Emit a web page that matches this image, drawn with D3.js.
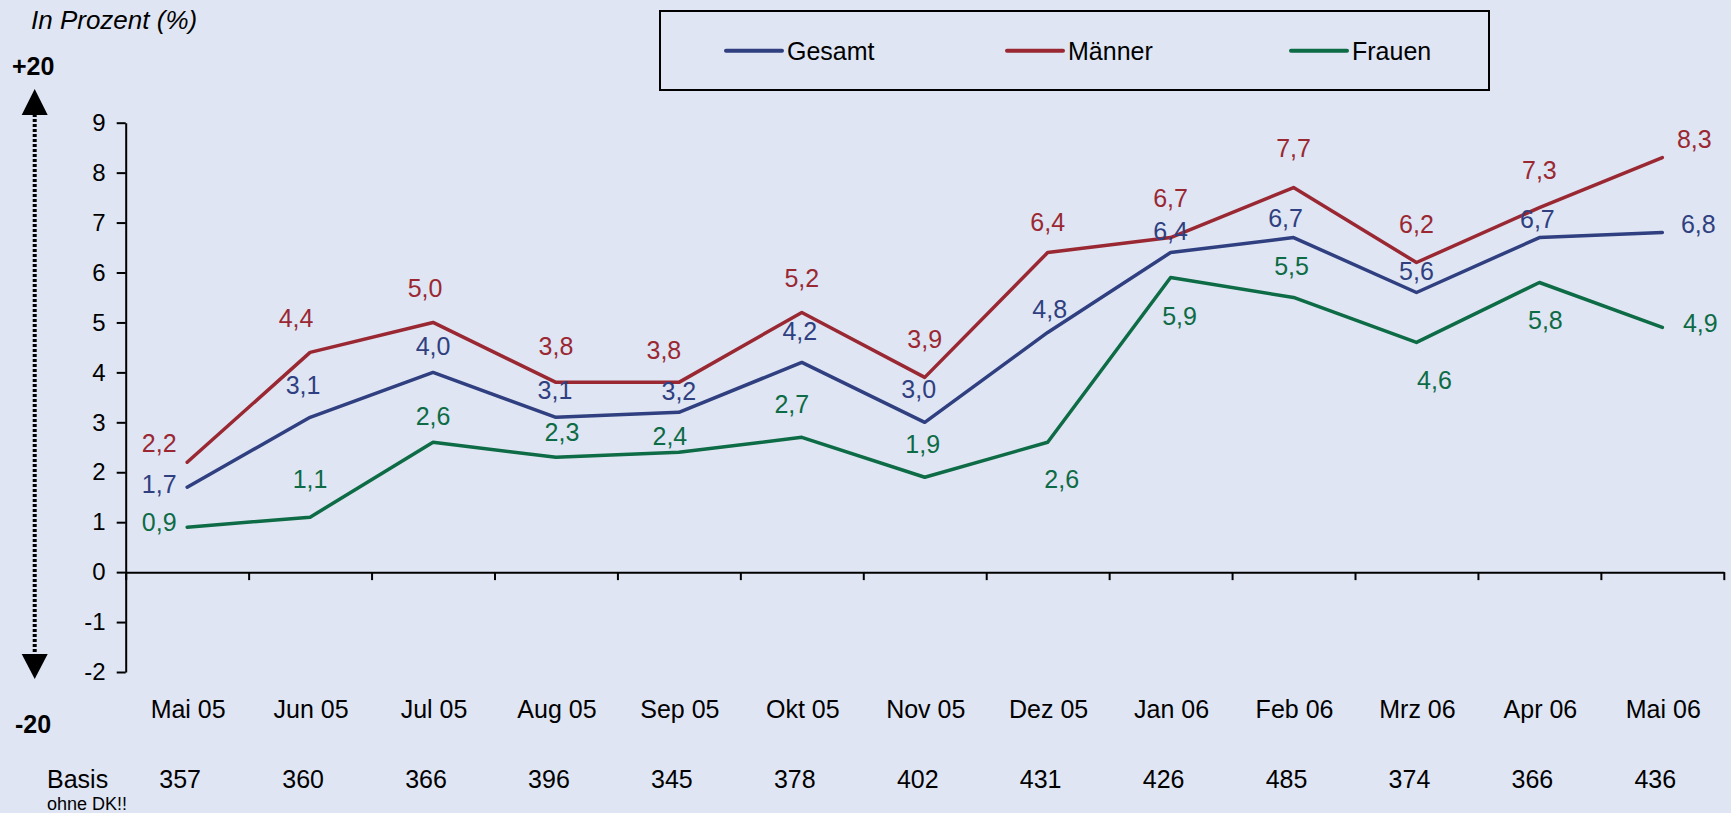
<!DOCTYPE html>
<html>
<head>
<meta charset="utf-8">
<script src="https://cdn.jsdelivr.net/npm/d3@7"></script>
<style>
  body { margin: 0; background: #dfe5f3; }
  svg { display: block; font-family: Arial, "Liberation Sans", sans-serif; }
</style>
</head>
<body>
<div id="chart"></div>
<script>
// data
const months = ["Mai 05", "Jun 05", "Jul 05", "Aug 05", "Sep 05", "Okt 05", "Nov 05",
    "Dez 05", "Jan 06", "Feb 06", "Mrz 06", "Apr 06", "Mai 06"]
const gesamt = [1.7, 3.1, 4.0, 3.1, 3.2, 4.2, 3.0, 4.8, 6.4, 6.7, 5.6, 6.7, 6.8]
const maenner = [2.2, 4.4, 5.0, 3.8, 3.8, 5.2, 3.9, 6.4, 6.7, 7.7, 6.2, 7.3, 8.3]
const frauen = [0.9, 1.1, 2.6, 2.3, 2.4, 2.7, 1.9, 2.6, 5.9, 5.5, 4.6, 5.8, 4.9]
const basis = [357, 360, 366, 396, 345, 378, 402, 431, 426, 485, 374, 366, 436]
const yTicks = [-2, -1, 0, 1, 2, 3, 4, 5, 6, 7, 8, 9]

// where each value label sits, relative to its point (px)
const offGesamt = [[-28, -3], [-7, -32], [0, -26], [-1, -27], [0, -21], [-2, -31], [-6, -33],
    [2, -23], [0, -22], [-8, -20], [0, -21], [-2, -19], [36, -9]]
const offMaenner = [[-28, -19], [-14, -34], [-8, -34], [0, -36], [-15, -32], [0, -34], [0, -38],
    [0, -31], [0, -40], [0, -40], [0, -39], [0, -38], [32, -19]]
const offFrauen = [[-28, -5], [0, -38], [0, -26], [6, -25], [-9, -16], [-10, -33], [-2, -33],
    [14, 37], [9, 38], [-2, -31], [18, 38], [6, 38], [38, -4]]

const series = [
    { name: "Gesamt", values: gesamt, color: "#2f3f80", off: offGesamt },
    { name: "Männer", values: maenner, color: "#9a2832", off: offMaenner },
    { name: "Frauen", values: frauen, color: "#0d6b45", off: offFrauen }
]

const width = 1731
const height = 813
const left = 125.7, right = 1723.8
const labelSize = 25

const svg = d3.select('#chart').append('svg')
    .attr('width', width)
    .attr('height', height)

svg.append('rect').attr('width', width).attr('height', height).attr('fill', '#dfe5f3')

const x = d3.scaleBand().domain(months).range([left, right]).padding(0)
const xEdge = d3.scaleLinear().domain([0, months.length]).range([left, right])
const y = d3.scaleLinear().domain([-2, 9]).range([672, 122.7])
const cx = (i) => x(months[i]) + x.bandwidth() / 2

// y axis
const yAxis = svg.append('g')
    .attr('transform', `translate(${left},0)`)
    .call(d3.axisLeft(y).tickValues(yTicks).tickSize(9).tickPadding(11).tickSizeOuter(0).tickFormat(d => String(d)))
yAxis.select('.domain').attr('stroke', '#000').attr('stroke-width', 2)
yAxis.selectAll('.tick line').attr('stroke', '#000').attr('stroke-width', 2)
yAxis.selectAll('.tick text').attr('font-size', 24).attr('fill', '#000').attr('font-family', 'Arial, "Liberation Sans", sans-serif')

// x axis at zero, ticks at the band edges
const xAxis = svg.append('g')
    .attr('transform', `translate(0,${y(0)})`)
    .call(d3.axisBottom(xEdge).tickValues(d3.range(0, months.length + 1)).tickSize(8).tickSizeOuter(0).tickFormat(''))
xAxis.select('.domain').attr('stroke', '#000').attr('stroke-width', 2)
xAxis.selectAll('.tick line').attr('stroke', '#000').attr('stroke-width', 2)

// month labels
svg.append('g').selectAll('text').data(months).enter().append('text')
    .attr('x', (d, i) => cx(i) + 1)
    .attr('y', 718)
    .attr('text-anchor', 'middle')
    .attr('font-size', 25)
    .text(d => d)

// basis row
svg.append('text').attr('x', 47).attr('y', 788).attr('font-size', 25).text('Basis')
svg.append('text').attr('x', 47).attr('y', 810).attr('font-size', 18).text('ohne DK!!')
svg.append('g').selectAll('text').data(basis).enter().append('text')
    .attr('x', (d, i) => cx(i) - 7)
    .attr('y', 788)
    .attr('text-anchor', 'middle')
    .attr('font-size', 25)
    .text(d => d)

// lines
const line = d3.line().x((d, i) => cx(i)).y(d => y(d))
series.forEach(s => {
    svg.append('path')
        .datum(s.values)
        .attr('d', line)
        .attr('fill', 'none')
        .attr('stroke', s.color)
        .attr('stroke-width', 3.5)
        .attr('stroke-linejoin', 'round')
        .attr('stroke-linecap', 'round')
})

// value labels
const fmt = (v) => v.toFixed(1).replace('.', ',')
series.forEach(s => {
    svg.append('g').selectAll('text').data(s.values).enter().append('text')
        .attr('x', (d, i) => cx(i) + s.off[i][0])
        .attr('y', (d, i) => y(d) + s.off[i][1] + 0.36 * labelSize)
        .attr('text-anchor', 'middle')
        .attr('font-size', labelSize)
        .attr('fill', s.color)
        .text(d => fmt(d))
})

// legend
const legend = svg.append('g')
legend.append('rect')
    .attr('x', 660).attr('y', 11).attr('width', 829).attr('height', 79)
    .attr('fill', 'none').attr('stroke', '#000').attr('stroke-width', 2)
const legendX = [726, 1007, 1291]
series.forEach((s, i) => {
    legend.append('line')
        .attr('x1', legendX[i]).attr('x2', legendX[i] + 56)
        .attr('y1', 50.7).attr('y2', 50.7)
        .attr('stroke', s.color).attr('stroke-width', 4).attr('stroke-linecap', 'round')
    legend.append('text')
        .attr('x', legendX[i] + 61).attr('y', 59.5)
        .attr('font-size', 25)
        .text(s.name)
})

// title and arrow
svg.append('text').attr('x', 31).attr('y', 29).attr('font-size', 26)
    .attr('font-style', 'italic').text('In Prozent (%)')
svg.append('text').attr('x', 12).attr('y', 75).attr('font-size', 25)
    .attr('font-weight', 'bold').text('+20')
svg.append('text').attr('x', 15).attr('y', 733).attr('font-size', 25)
    .attr('font-weight', 'bold').text('-20')

svg.append('line')
    .attr('x1', 34.7).attr('x2', 34.7).attr('y1', 114).attr('y2', 656)
    .attr('stroke', '#000').attr('stroke-width', 4).attr('stroke-dasharray', '3,2')
svg.append('path').attr('d', 'M34.7,89 L47.7,115 L21.7,115 Z').attr('fill', '#000')
svg.append('path').attr('d', 'M34.7,679 L47.7,654 L21.7,654 Z').attr('fill', '#000')
</script>
</body>
</html>
